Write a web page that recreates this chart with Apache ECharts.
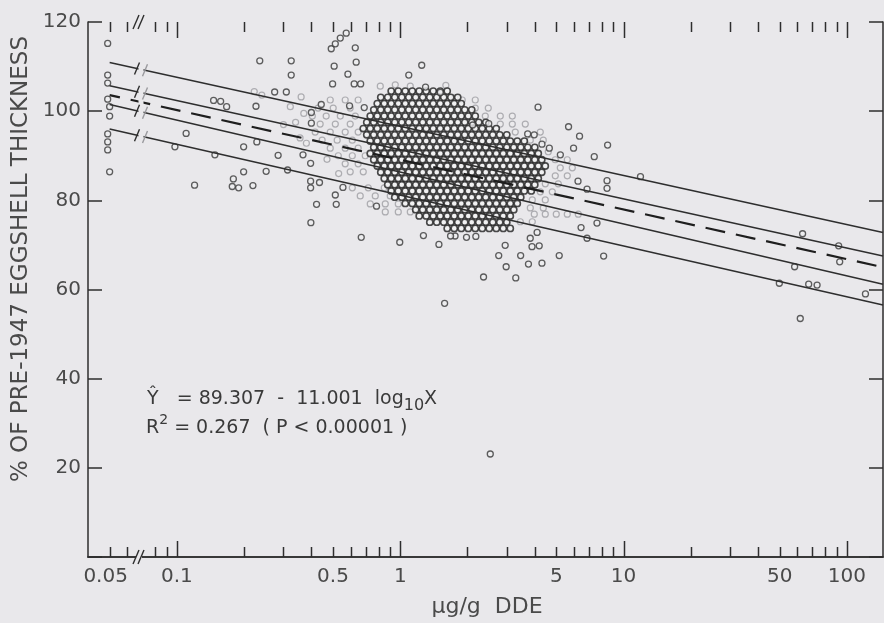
<!DOCTYPE html>
<html><head><meta charset="utf-8">
<script src="https://cdn.jsdelivr.net/npm/echarts@6/dist/echarts.min.js"></script>
<style>html,body{margin:0;padding:0;background:#e9e8eb;}#c{width:884px;height:623px;}</style>
</head><body><div id="c"></div>
<script>
// ---------- axis ticks / labels ----------
const xLabelValues = [0.05, 0.1, 0.5, 1, 5, 10, 50, 100];
const xTickLabels = ['0.05', '0.1', '0.5', '1', '5', '10', '50', '100'];
const xMajorTicks = [0.1, 1, 10, 100];
const xMinorTicks = [0.05, 0.06, 0.08, 0.09, 0.2, 0.3, 0.4, 0.5, 0.6, 0.7, 0.8, 0.9,
  2, 3, 4, 5, 6, 7, 8, 9, 20, 30, 40, 50, 60, 70, 80, 90];
const yTickValues = [0, 20, 40, 60, 80, 100, 120];

// ---------- fitted lines (endpoints) ----------
const upperOuterLine = [[0.05, 110.9], [145, 72.8]];
const upperInnerLine = [[0.05, 105.7], [145, 67.5]];
const regressionLine = [[0.05, 103.6], [145, 65.0]];
const lowerInnerLine = [[0.05, 101.5], [145, 61.2]];
const lowerOuterLine = [[0.05, 96.0], [145, 56.5]];

// ---------- points at the 0.05 column ----------
const pointsAt005 = [[0.049, 115.2], [0.049, 108.1], [0.049, 106.3], [0.049, 102.7], [0.05, 101.0],
  [0.05, 98.9], [0.049, 94.9], [0.049, 93.1], [0.049, 91.3], [0.05, 86.4]];

// ---------- individually readable points ----------
const scatterPoints = [
  [0.098, 92.0], [0.110, 95.0], [0.120, 83.4], [0.146, 102.4], [0.157, 102.2], [0.167, 101.0],
  [0.148, 90.2], [0.177, 83.1], [0.189, 82.8], [0.179, 84.8], [0.199, 86.4], [0.199, 92.0],
  [0.219, 83.3], [0.228, 93.1], [0.226, 101.1], [0.235, 111.3], [0.251, 86.5], [0.274, 104.3],
  [0.309, 104.3], [0.284, 90.1], [0.325, 111.3], [0.325, 108.1], [0.313, 86.8], [0.367, 90.2],
  [0.397, 88.3], [0.397, 84.3], [0.397, 82.8], [0.435, 84.0], [0.422, 79.1], [0.517, 79.1],
  [0.512, 81.2], [0.554, 82.9], [0.398, 75.0], [0.669, 71.7], [0.783, 78.7], [0.995, 70.6],
  [0.400, 97.3], [0.400, 99.7], [0.443, 101.5], [0.498, 106.1], [0.583, 108.3], [0.622, 106.1],
  [0.665, 106.1], [0.506, 110.1], [0.635, 111.0], [0.593, 101.2], [0.690, 100.8], [1.092, 108.1],
  [1.248, 110.3], [1.298, 105.4], [1.511, 104.2], [0.491, 114.0], [0.512, 115.1], [0.539, 116.4],
  [0.573, 117.5], [0.629, 114.2],
  [2.49, 97.2], [2.11, 96.9], [4.14, 100.9], [5.67, 96.5], [6.35, 94.4], [5.97, 91.7],
  [3.72, 94.9], [3.98, 94.7], [4.31, 92.6], [4.65, 91.7], [5.21, 90.2], [7.39, 89.8],
  [8.48, 92.4], [8.43, 84.4], [8.43, 82.7], [6.86, 82.5], [6.25, 84.3], [11.9, 85.3],
  [7.60, 74.9], [6.45, 73.9], [6.86, 71.5], [8.14, 67.5], [5.15, 67.6], [4.31, 65.9],
  [3.75, 65.7], [3.46, 67.6], [3.29, 62.6], [2.98, 65.1], [2.76, 67.6], [2.36, 62.8],
  [2.95, 69.9], [3.89, 69.6], [4.19, 69.8], [3.82, 71.5], [4.10, 72.8], [2.18, 71.9],
  [1.98, 71.7], [1.76, 72.0], [1.68, 72.0], [1.49, 70.1], [1.27, 72.1], [1.58, 56.9],
  [2.53, 23.1],
  [63.3, 72.5], [91.8, 69.8], [92.8, 66.2], [58.3, 65.1], [49.8, 61.4], [67.4, 61.2],
  [73.5, 61.0], [61.8, 53.5], [121, 59.0]
];

// ---------- dense central cloud, row by row: [Y, [X values]] ----------
const cloudRows = [
  [104.5, [0.911, 0.980, 1.053, 1.132, 1.216, 1.307, 1.405, 1.511, 1.623]],
  [103.1, [0.818, 0.879, 0.945, 1.016, 1.092, 1.173, 1.261, 1.356, 1.457, 1.566, 1.684, 1.809]],
  [101.7, [0.789, 0.848, 0.911, 0.980, 1.053, 1.132, 1.216, 1.307, 1.405, 1.511, 1.623, 1.745, 1.876]],
  [100.3, [0.761, 0.818, 0.879, 0.945, 1.016, 1.092, 1.173, 1.261, 1.356, 1.457, 1.566, 1.684, 1.809, 1.945, 2.090]],
  [98.9, [0.734, 0.789, 0.848, 0.911, 0.980, 1.053, 1.132, 1.216, 1.307, 1.405, 1.511, 1.623, 1.745, 1.876, 2.016, 2.167]],
  [97.5, [0.708, 0.761, 0.818, 0.879, 0.945, 1.016, 1.092, 1.173, 1.261, 1.356, 1.457, 1.566, 1.684, 1.809, 1.945, 2.090, 2.247, 2.415]],
  [96.1, [0.683, 0.734, 0.789, 0.848, 0.911, 0.980, 1.053, 1.132, 1.216, 1.307, 1.405, 1.511, 1.623, 1.745, 1.876, 2.016, 2.167, 2.329, 2.503, 2.691]],
  [94.7, [0.708, 0.761, 0.818, 0.879, 0.945, 1.016, 1.092, 1.173, 1.261, 1.356, 1.457, 1.566, 1.684, 1.809, 1.945, 2.090, 2.247, 2.415, 2.596, 2.790, 2.999]],
  [93.3, [0.734, 0.789, 0.848, 0.911, 0.980, 1.053, 1.132, 1.216, 1.307, 1.405, 1.511, 1.623, 1.745, 1.876, 2.016, 2.167, 2.329, 2.503, 2.691, 2.892, 3.110, 3.342, 3.593]],
  [91.9, [0.761, 0.818, 0.879, 0.945, 1.016, 1.092, 1.173, 1.261, 1.356, 1.457, 1.566, 1.684, 1.809, 1.945, 2.090, 2.247, 2.415, 2.596, 2.790, 2.999, 3.223, 3.464, 3.724, 4.003]],
  [90.5, [0.734, 0.789, 0.848, 0.911, 0.980, 1.053, 1.132, 1.216, 1.307, 1.405, 1.511, 1.623, 1.745, 1.876, 2.016, 2.167, 2.329, 2.503, 2.691, 2.892, 3.110, 3.342, 3.593, 3.861, 4.150]],
  [89.1, [0.761, 0.818, 0.879, 0.945, 1.016, 1.092, 1.173, 1.261, 1.356, 1.457, 1.566, 1.684, 1.809, 1.945, 2.090, 2.247, 2.415, 2.596, 2.790, 2.999, 3.223, 3.464, 3.724, 4.003, 4.302]],
  [87.7, [0.789, 0.848, 0.911, 0.980, 1.053, 1.132, 1.216, 1.307, 1.405, 1.511, 1.623, 1.745, 1.876, 2.016, 2.167, 2.329, 2.503, 2.691, 2.892, 3.110, 3.342, 3.593, 3.861, 4.150, 4.460]],
  [86.3, [0.818, 0.879, 0.945, 1.016, 1.092, 1.173, 1.261, 1.356, 1.457, 1.566, 1.684, 1.809, 1.945, 2.090, 2.247, 2.415, 2.596, 2.790, 2.999, 3.223, 3.464, 3.724, 4.003, 4.302]],
  [84.9, [0.848, 0.911, 0.980, 1.053, 1.132, 1.216, 1.307, 1.405, 1.511, 1.623, 1.745, 1.876, 2.016, 2.167, 2.329, 2.503, 2.691, 2.892, 3.110, 3.342, 3.593, 3.861, 4.150]],
  [83.5, [0.879, 0.945, 1.016, 1.092, 1.173, 1.261, 1.356, 1.457, 1.566, 1.684, 1.809, 1.945, 2.090, 2.247, 2.415, 2.596, 2.790, 2.999, 3.223, 3.464, 3.724, 4.003]],
  [82.1, [0.911, 0.980, 1.053, 1.132, 1.216, 1.307, 1.405, 1.511, 1.623, 1.745, 1.876, 2.016, 2.167, 2.329, 2.503, 2.691, 2.892, 3.110, 3.342, 3.593, 3.861]],
  [80.7, [0.945, 1.016, 1.092, 1.173, 1.261, 1.356, 1.457, 1.566, 1.684, 1.809, 1.945, 2.090, 2.247, 2.415, 2.596, 2.790, 2.999, 3.223, 3.464]],
  [79.3, [1.053, 1.132, 1.216, 1.307, 1.405, 1.511, 1.623, 1.745, 1.876, 2.016, 2.167, 2.329, 2.503, 2.691, 2.892, 3.110, 3.342]],
  [77.9, [1.173, 1.261, 1.356, 1.457, 1.566, 1.684, 1.809, 1.945, 2.090, 2.247, 2.415, 2.596, 2.790, 2.999, 3.223]],
  [76.5, [1.216, 1.307, 1.405, 1.511, 1.623, 1.745, 1.876, 2.016, 2.167, 2.329, 2.503, 2.691, 2.892, 3.110]],
  [75.1, [1.356, 1.457, 1.566, 1.684, 1.809, 1.945, 2.090, 2.247, 2.415, 2.596, 2.790, 2.999]],
  [73.7, [1.623, 1.745, 1.876, 2.016, 2.167, 2.329, 2.503, 2.691, 2.892, 3.110]]
];

// ---------- faint (lightly printed) points around the cloud ----------
const fadedPoints = [
  [0.486, 102.5], [0.567, 102.5], [0.648, 102.5], [0.429, 100.7], [0.501, 100.7], [0.597, 100.7],
  [0.404, 98.9], [0.466, 98.9], [0.539, 98.9], [0.629, 98.9], [0.438, 97.1], [0.512, 97.1], [0.597, 97.1],
  [0.416, 95.3], [0.486, 95.3], [0.567, 95.3], [0.648, 95.3], [0.447, 93.5], [0.522, 93.5], [0.610, 93.5],
  [0.486, 91.7], [0.567, 91.7], [0.648, 91.7], [0.528, 90.0], [0.610, 90.0], [0.697, 90.0],
  [0.567, 88.2], [0.648, 88.2], [0.597, 86.4], [0.683, 86.4], [0.530, 86.0], [0.470, 89.2],
  [0.610, 82.8], [0.719, 82.8], [0.848, 82.8], [0.662, 81.0], [0.773, 81.0], [0.902, 81.0],
  [0.734, 79.2], [0.857, 79.2], [0.980, 79.2], [0.857, 77.4], [0.980, 77.4], [1.109, 77.4],
  [0.222, 104.4], [0.240, 103.6], [0.322, 101.0], [0.340, 97.5], [0.356, 94.0], [0.370, 99.5],
  [0.380, 92.8], [0.360, 103.2], [0.300, 97.0],
  [0.814, 105.6], [0.950, 105.9], [1.109, 105.6], [1.600, 105.8], [1.760, 103.0],
  [1.895, 102.5], [2.167, 102.5], [2.167, 100.7], [2.478, 100.7], [2.403, 98.9], [2.805, 98.9], [3.175, 98.9],
  [2.805, 97.1], [3.175, 97.1], [3.629, 97.1], [3.273, 95.3], [4.236, 95.3], [3.822, 93.5], [4.369, 93.5],
  [4.600, 90.9], [4.944, 89.1], [5.596, 89.1], [5.206, 87.3], [5.893, 87.3], [4.944, 85.5], [5.596, 85.5],
  [4.460, 83.7], [5.100, 83.7], [4.236, 81.9], [4.794, 81.9], [3.901, 80.1], [4.460, 80.1],
  [3.822, 78.3], [4.369, 78.3], [3.982, 76.9], [4.460, 76.9], [4.995, 76.9], [5.596, 76.9], [6.268, 76.9],
  [3.447, 75.2], [3.901, 75.2]
];

// ---------- build ----------
const BG = '#e9e8eb';
const INK = '#2e2e2e';
const LABEL = '#4a4a4a';
const FONT = '"DejaVu Sans", sans-serif';

const cloudData = [];
cloudRows.forEach(function (row) {
  row[1].forEach(function (x) { cloudData.push([x, row[0]]); });
});

function fitLine(data, dashed) {
  return {
    type: 'line', data: data, symbol: 'none', silent: true, z: 6,
    lineStyle: dashed
      ? { color: '#1e1e1e', width: 2.2, type: [20, 11], dashOffset: 9.5 }
      : { color: INK, width: 1.5 }
  };
}
const xAxisBase = {
  type: 'log', logBase: 10, min: 0.04, max: 145,
  axisLine: { show: true, lineStyle: { color: INK, width: 1.5 } },
  axisTick: { show: false }, axisLabel: { show: false },
  splitLine: { show: false }, minorTick: { show: false }
};
const yAxisBase = {
  type: 'value', min: 0, max: 120, interval: 20,
  axisLine: { show: true, lineStyle: { color: INK, width: 1.5 } },
  axisTick: { show: true, inside: true, length: 14, lineStyle: { color: INK, width: 1.5 } },
  splitLine: { show: false }
};

const chart = echarts.init(document.getElementById('c'), null, { renderer: 'canvas' });
chart.setOption({
  backgroundColor: BG,
  animation: false,
  grid: { left: 88, right: 1, top: 22, bottom: 66, containLabel: false },
  xAxis: [
    Object.assign({}, xAxisBase, { position: 'bottom' }),
    Object.assign({}, xAxisBase, { position: 'top' })
  ],
  yAxis: [
    Object.assign({}, yAxisBase, {
      position: 'left',
      axisLabel: { color: LABEL, fontSize: 20, fontFamily: FONT, margin: 7,
        formatter: function (v) { return v === 0 ? '' : String(v); } }
    }),
    Object.assign({}, yAxisBase, { position: 'right', axisLabel: { show: false } })
  ],
  series: [
    { type: 'scatter', data: fadedPoints, symbol: 'circle', symbolSize: 6, silent: true, z: 2,
      itemStyle: { color: '#ecebee', borderColor: '#9e9ea3', borderWidth: 1.2 } },
    { type: 'scatter', data: cloudData, symbol: 'circle', symbolSize: 6.2, silent: true, z: 3,
      itemStyle: { color: '#f2f2f4', borderColor: '#1f1f1f', borderWidth: 1.6 } },
    { type: 'scatter', data: pointsAt005.concat(scatterPoints), symbol: 'circle', symbolSize: 6, silent: true, z: 4,
      itemStyle: { color: '#eeedf0', borderColor: '#383838', borderWidth: 1.3 } },
    fitLine(upperOuterLine), fitLine(upperInnerLine), fitLine(regressionLine, true),
    fitLine(lowerInnerLine), fitLine(lowerOuterLine)
  ]
});

// ---------- decorations placed through the axes ----------
function P(x, y) { return chart.convertToPixel({ xAxisIndex: 0, yAxisIndex: 0 }, [x, y]); }
const yBot = P(1, 0)[1], yTop = P(1, 120)[1];
const g = [];
function seg(x1, y1, x2, y2, color, w, z) {
  g.push({ type: 'line', silent: true, z: z || 50, shape: { x1: x1, y1: y1, x2: x2, y2: y2 },
    style: { stroke: color || INK, lineWidth: w || 1.5 } });
}
xMajorTicks.forEach(function (v) {
  const x = Math.round(P(v, 0)[0]) + 0.5;
  seg(x, yBot, x, yBot - 16); seg(x, yTop, x, yTop + 16);
});
xMinorTicks.forEach(function (v) {
  const x = Math.round(P(v, 0)[0]) + 0.5;
  seg(x, yBot, x, yBot - 10); seg(x, yTop, x, yTop + 10);
});
xLabelValues.forEach(function (v, i) {
  g.push({ type: 'text', silent: true, z: 50, x: P(v, 0)[0] - (i === 0 ? 4 : 0), y: yBot + 20,
    style: { text: xTickLabels[i], fill: LABEL, font: '20px ' + FONT,
      textAlign: 'center', align: 'center', textVerticalAlign: 'middle', verticalAlign: 'middle' } });
});
// axis breaks
const bx = 139;
[yBot, yTop].forEach(function (ya) {
  g.push({ type: 'rect', silent: true, z: 60, shape: { x: bx - 3, y: ya - 3, width: 6, height: 6 }, style: { fill: BG } });
  seg(bx - 6, ya + 7, bx, ya - 7, INK, 1.4, 61);
  seg(bx - 1, ya + 7, bx + 5, ya - 7, INK, 1.4, 61);
});
// line breaks
const lineSets = [upperOuterLine, upperInnerLine, lowerInnerLine, lowerOuterLine];
g.push({ type: 'rect', silent: true, z: 60, shape: { x: 138.5, y: 50, width: 5, height: 100 }, style: { fill: BG } });
lineSets.forEach(function (d) {
  const a = P(d[0][0], d[0][1]), b = P(d[1][0], d[1][1]);
  function yAt(x) { return a[1] + (x - a[0]) * (b[1] - a[1]) / (b[0] - a[0]); }
  const x1 = 137, x2 = 145;
  seg(x1 - 2.5, yAt(x1) + 6, x1 + 2.5, yAt(x1) - 6, INK, 1.4, 61);
  seg(x2 - 2.5, yAt(x2) + 6, x2 + 2.5, yAt(x2) - 6, '#9a9a9e', 1.4, 61);
});
// annotations
g.push({ type: 'text', silent: true, z: 50, x: 147, y: 399,
  style: { text: '{a|Ŷ   = 89.307  -  11.001  log}{s|10}{a|X}', fill: INK,
    textVerticalAlign: 'middle', verticalAlign: 'middle',
    rich: { a: { font: '19px ' + FONT, fill: '#3a3a3a', lineHeight: 30, verticalAlign: 'middle' },
            s: { font: '16px ' + FONT, fill: '#3a3a3a', lineHeight: 30, verticalAlign: 'bottom' } } } });
g.push({ type: 'text', silent: true, z: 50, x: 146, y: 428,
  style: { text: '{a|R}{p|2}{a| = 0.267  ( P < 0.00001 )}', fill: INK,
    textVerticalAlign: 'middle', verticalAlign: 'middle',
    rich: { a: { font: '19px ' + FONT, fill: '#3a3a3a', lineHeight: 30, verticalAlign: 'middle' },
            p: { font: '14px ' + FONT, fill: '#3a3a3a', lineHeight: 30, verticalAlign: 'top' } } } });
// axis titles
g.push({ type: 'text', silent: true, z: 50, x: 21, y: 259, rotation: Math.PI / 2,
  style: { text: '% OF PRE-1947 EGGSHELL THICKNESS', fill: LABEL, font: '23px ' + FONT,
    textAlign: 'center', align: 'center', textVerticalAlign: 'middle', verticalAlign: 'middle' } });
g.push({ type: 'text', silent: true, z: 50, x: 487, y: 607,
  style: { text: 'μg/g  DDE', fill: LABEL, font: '22px ' + FONT,
    textAlign: 'center', align: 'center', textVerticalAlign: 'middle', verticalAlign: 'middle' } });

chart.setOption({ graphic: { elements: g } });
</script></body></html>
